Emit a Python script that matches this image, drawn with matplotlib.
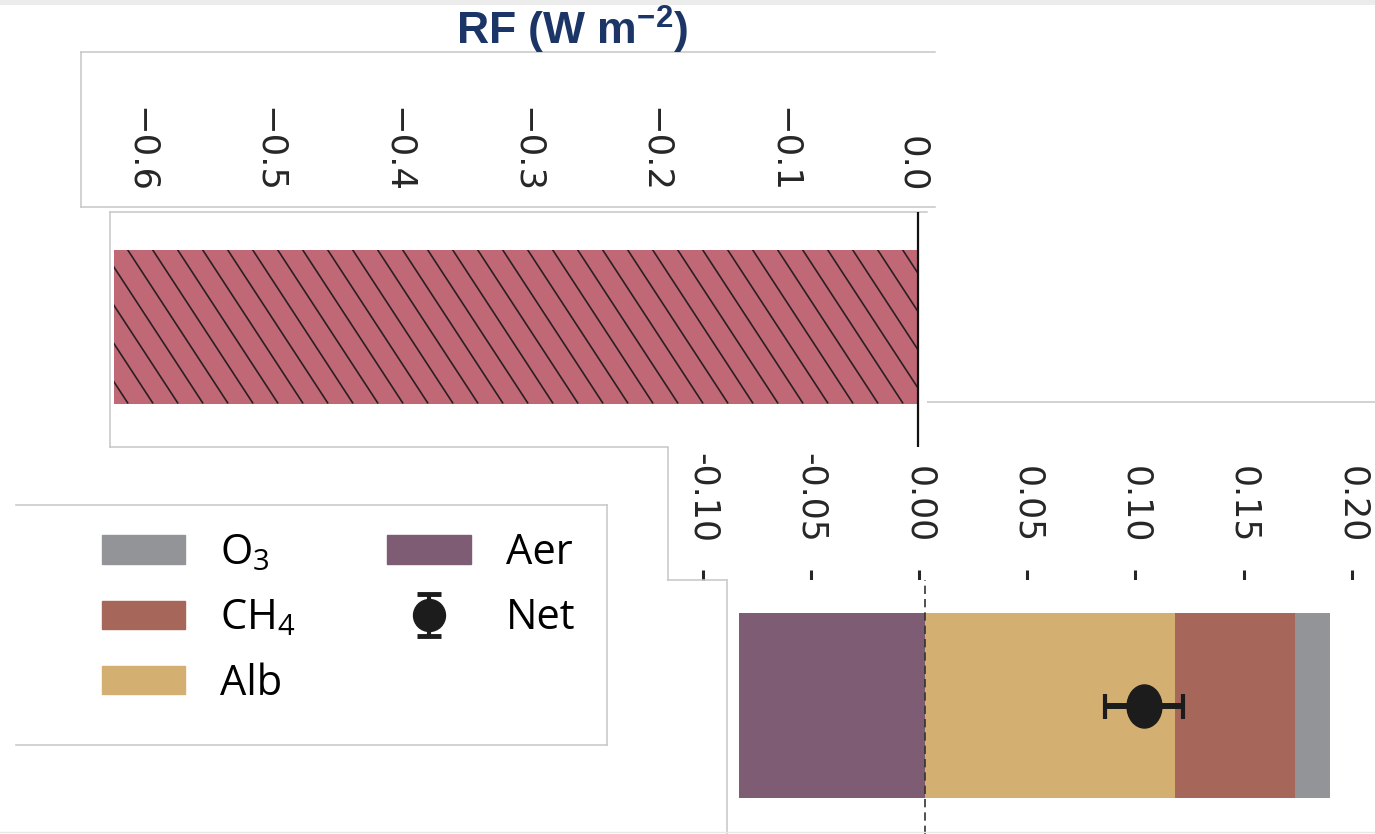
import numpy as np
import matplotlib
matplotlib.use("Agg")
import matplotlib.pyplot as plt
from matplotlib.collections import LineCollection
from matplotlib.container import ErrorbarContainer
from matplotlib.legend_handler import HandlerErrorbar
from matplotlib.patches import Patch, Rectangle
from matplotlib.lines import Line2D
from matplotlib.path import Path
from matplotlib.transforms import IdentityTransform, Affine2D

plt.rcParams["mathtext.fontset"] = "custom"
plt.rcParams["mathtext.rm"] = "Open Sans"
plt.rcParams["mathtext.bf"] = "Liberation Sans:bold"

# ---- data (W m-2) ----
top_ticks = [-0.6, -0.5, -0.4, -0.3, -0.2, -0.1, 0.0]
top_bar = -0.625                     # hatched bar
bot_ticks = [-0.10, -0.05, 0.00, 0.05, 0.10, 0.15, 0.20]
pos_names = ["Alb", "CH4", "O3"]     # stacked right of zero
pos_vals = [0.1155, 0.0555, 0.0162]
aer_val = -0.086
net_val = 0.101
net_err = 0.018

COL = {"O3": "#939498", "CH4": "#a6675a", "Alb": "#d4af72", "Aer": "#7d5c74"}
HATCH_BAR = "#c16877"
NAVY = "#1b3566"
FRAME = "#c6c6c6"
TXT = "#262626"

W, H = 1375, 834
fig = plt.figure(figsize=(W / 100, H / 100), dpi=100)


def px_axes(x0, y0, x1, y1):
    return fig.add_axes([x0 / W, 1 - y1 / H, (x1 - x0) / W, (y1 - y0) / H])


def px_xlim(x0, x1, zero, scale):
    return (x0 - zero) / scale, (x1 - zero) / scale


def frame(ax, sides):
    for s, sp in ax.spines.items():
        sp.set_visible(s in sides)
        sp.set_color(FRAME)
        sp.set_linewidth(1.1)


# faint screenshot edges
fig.add_artist(Rectangle((0, 1 - 5 / H), 1, 5 / H, transform=fig.transFigure, color="#ececec", lw=0))
fig.add_artist(Line2D([0, 1], [1 - 832 / H] * 2, transform=fig.transFigure, color="#e8e8e8", lw=1))

fig.text(572 / W, 1 - 30 / H, r"RF (W m$^{\mathbf{-2}}$)", fontsize=32, fontweight="bold",
         family="Liberation Sans", color=NAVY, ha="center", va="center")

SC_TOP, SC_BOT = 1285.7, 2164.0
lab_pad = -(141 * 0.72)

# panel A: tick labels of the top axis
axA = px_axes(81, 52, 935, 207)
axA.set_xlim(*px_xlim(81, 935, 912, SC_TOP))
axA.set_yticks([])
axA.set_xticks(top_ticks, labels=[f"{v:.1f}".replace("-", "\u2212") for v in top_ticks])
axA.tick_params(axis="x", top=False, bottom=False, labeltop=True, labelbottom=False,
                direction="in", length=0, pad=lab_pad, labelrotation=-90, labelsize=25.5, labelcolor=TXT)
frame(axA, ("left", "top", "bottom"))

# panel C: tick labels of the bottom axis
axC = px_axes(668, 402, 1400, 580)
axC.set_xlim(*px_xlim(668, 1400, 919, SC_BOT))
axC.set_yticks([])
axC.set_xticks(bot_ticks, labels=[f"{v:.2f}" for v in bot_ticks])
axC.tick_params(axis="x", top=False, bottom=True, labeltop=True, labelbottom=False,
                direction="in", length=7.2, width=2.2, color=TXT, pad=lab_pad,
                labelrotation=-90, labelsize=25, labelcolor=TXT)
frame(axC, ("left", "top", "bottom"))
axC.spines["bottom"].set_bounds(axC.get_xlim()[0], (727 - 919) / SC_BOT)

# panel B: hatched bar
axB = px_axes(110, 212, 927, 447)
axB.set_xlim(*px_xlim(110, 927, 918, SC_TOP))
axB.set_ylim(-(447 - 326.5) / 154, (326.5 - 212) / 154)
bar = axB.barh(0, top_bar, height=1, color=HATCH_BAR, zorder=2)[0]
(bx0, by0), (bx1, by1) = axB.transData.transform([(top_bar, -0.5), (0, 0.5)])
slope, step = 1.53, 25
run = (by1 - by0) / slope
xs = np.arange(bx0 + 13 - step * np.ceil(run / step + 1), bx1 + step, step)
lc = LineCollection([[(x, by1), (x + run, by0)] for x in xs], colors="#2a1f22",
                    linewidths=1.2, transform=IdentityTransform(), zorder=3)
axB.add_collection(lc, autolim=False)
lc.set_clip_path(bar)
axB.axvline(0, color="#111111", lw=1.6, zorder=4)
axB.set_xticks([])
axB.set_yticks([])
frame(axB, ("left", "top", "bottom"))
axB.spines["bottom"].set_bounds(axB.get_xlim()[0], (668 - 918) / SC_TOP)

# panel D: stacked components and net
axD = px_axes(727, 580, 1400, 834)
axD.set_xlim(*px_xlim(727, 1400, 925, SC_BOT))
axD.set_ylim(-(834 - 705.5) / 185, (705.5 - 580) / 185)
axD.barh(0, aer_val, height=1, color=COL["Aer"], zorder=2)
lefts = np.concatenate([[0], np.cumsum(pos_vals)[:-1]])
for name, v, l in zip(pos_names, pos_vals, lefts):
    axD.barh(0, v, left=l, height=1, color=COL[name], zorder=2)
axD.axvline(0, color="#333333", lw=1.2, ls=(0, (5, 3)), zorder=3)
ellipse = Path.unit_circle().transformed(Affine2D().scale(0.81, 1.0))
axD.errorbar(net_val, 0, xerr=net_err, fmt="none", ecolor="#1c1c1c", elinewidth=4.3,
             capsize=9, capthick=3, zorder=4)
axD.plot(net_val, 0, marker=ellipse, ms=31, color="#1c1c1c", zorder=5)
axD.set_xticks([])
axD.set_yticks([])
frame(axD, ("left",))

# legend box
axL = px_axes(16, 505, 607, 745)
axL.set_xticks([])
axL.set_yticks([])
frame(axL, ("top", "right", "bottom"))
net_h = axL.errorbar([np.nan], [np.nan], yerr=[1], fmt="o", ms=23, color="#1c1c1c",
                     elinewidth=3, capsize=8.5, capthick=3.5)
handles = [Patch(color=COL["O3"]), Patch(color=COL["CH4"]), Patch(color=COL["Alb"]),
           Patch(color=COL["Aer"]), net_h]
labels = [r"O$_\mathrm{3}$", r"CH$_\mathrm{4}$", "Alb", "Aer", "Net"]
axL.legend(handles, labels, ncol=2, loc="upper left",
           bbox_to_anchor=((102 - 16) / 591, 1 - (532 - 505) / 240),
           frameon=False, prop={"family": "Open Sans", "size": 30},
           handlelength=2.0, handleheight=0.67, handletextpad=0.84,
           columnspacing=2.2, labelspacing=0.56, borderpad=0, borderaxespad=0,
           handler_map={ErrorbarContainer: HandlerErrorbar(yerr_size=0.5)})

fig.savefig("out.png", dpi=100)
